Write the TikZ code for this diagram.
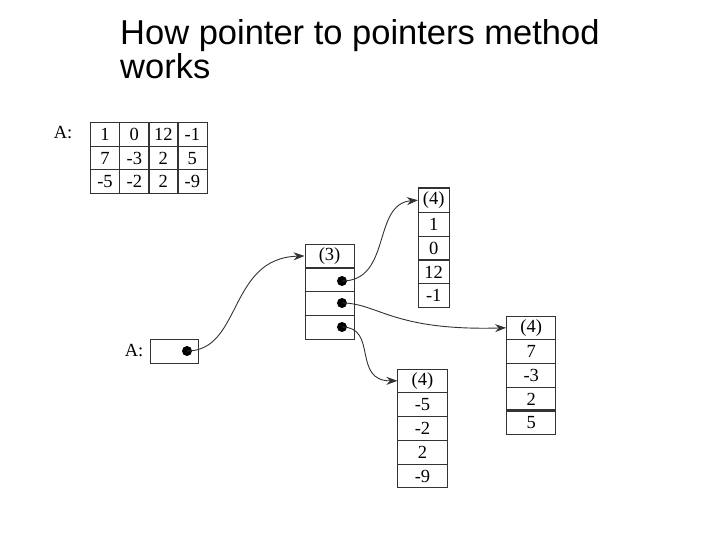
\documentclass[tikz,border=0pt]{standalone}
\usepackage{fontspec}
\setmainfont{Liberation Serif}
\newfontfamily\titlefont{Liberation Sans}
\usetikzlibrary{arrows.meta}
\begin{document}
\begin{tikzpicture}[x=1pt,y=-1pt,
  ln/.style={draw=black!80,line width=0.9pt},
  cfont/.style={font=\fontsize{18.5}{18.5}\selectfont},
  mcell/.style={ln,cfont,minimum width=29.3pt,minimum height=23.5pt,inner sep=0pt},
  vcell/.style={ln,cfont,minimum width=49.3pt,minimum height=23.7pt,inner sep=0pt},
  ncell/.style={ln,cfont,minimum width=30.7pt,minimum height=23.8pt,inner sep=0pt},
  lbl/.style={font=\fontsize{18.5}{18.5}\selectfont,inner sep=0pt},
  dot/.style={circle,fill=black,minimum size=10pt,inner sep=0pt},
  ptr/.style={draw=black!80,line width=0.9pt,-{Stealth[length=11pt,width=8pt]}},
  ttl/.style={anchor=base west,inner sep=0pt,font=\titlefont\fontsize{34.5}{34.5}\selectfont}]
\useasboundingbox (0,0) rectangle (720,540);
% title
\node[ttl] (t1) at (120,44.5) {How pointer to pointers method};
\node[ttl] (t2) at (120,79) {works};
% matrix A
\node[lbl] (la) at (63,133) {A:};
\node[mcell] (m11) at (105,134.5) {1};
\node[mcell] (m12) at (134.3,134.5) {0};
\node[mcell] (m13) at (163.3,134.5) {12};
\node[mcell] (m14) at (192.3,134.5) {-1};
\node[mcell] (m21) at (105,158.2) {7};
\node[mcell] (m22) at (134.3,158.2) {-3};
\node[mcell] (m23) at (163.3,158.2) {2};
\node[mcell] (m24) at (192.3,158.2) {5};
\node[mcell] (m31) at (105,181.5) {-5};
\node[mcell] (m32) at (134.3,181.5) {-2};
\node[mcell] (m33) at (163.3,181.5) {2};
\node[mcell] (m34) at (192.3,181.5) {-9};
% pointer A
\node[lbl] (lp) at (134,351) {A:};
\node[ln,minimum width=48.3pt,minimum height=24pt,inner sep=0pt] (pa) at (174.2,351.3) {};
\node[dot] (pad) at (187,351) {};
% column (3)
\node[vcell] (c0) at (329.6,256) {(3)};
\node[vcell] (c1) at (329.6,280) {};
\node[vcell] (c2) at (329.6,303.7) {};
\node[vcell] (c3) at (329.6,327.7) {};
\node[dot] (d1) at (342,281) {};
\node[dot] (d2) at (342,303) {};
\node[dot] (d3) at (342,327) {};
% top column (4)
\node[ncell] (a0) at (433.7,200.2) {(4)};
\node[ncell] (a1) at (433.7,224.1) {1};
\node[ncell] (a2) at (433.7,248) {0};
\node[ncell] (a3) at (433.7,272) {12};
\node[ncell] (a4) at (433.7,295.7) {-1};
\draw[black!80,line width=2.2pt] (a0.north west) -- (a0.north east);
% right column (4)
\node[vcell] (b0) at (531.2,327.8) {(4)};
\node[vcell] (b1) at (531.2,351.6) {7};
\node[vcell] (b2) at (531.2,375.5) {-3};
\node[vcell] (b3) at (531.2,399.3) {2};
\node[vcell] (b4) at (531.2,422.7) {5};
\draw[black!80,line width=2pt] (b4.north west) -- (b4.north east);
% bottom column (4)
\node[vcell] (e0) at (422.5,380.8) {(4)};
\node[vcell] (e1) at (422.5,404.6) {-5};
\node[vcell] (e2) at (422.5,428.5) {-2};
\node[vcell] (e3) at (422.5,452.4) {2};
\node[vcell] (e4) at (422.5,476) {-9};
% pointers
\draw[ptr] (pad.center) .. controls (242,351) and (228,258) .. (c0.west);
\draw[ptr] (d1.center) .. controls (392,281) and (372,204) .. (a0.west);
\draw[ptr] (d2.center) .. controls (378,303) and (392,331) .. (b0.west);
\draw[ptr] (d3.center) .. controls (378,327) and (352,381) .. (e0.west);
\end{tikzpicture}
\end{document}
